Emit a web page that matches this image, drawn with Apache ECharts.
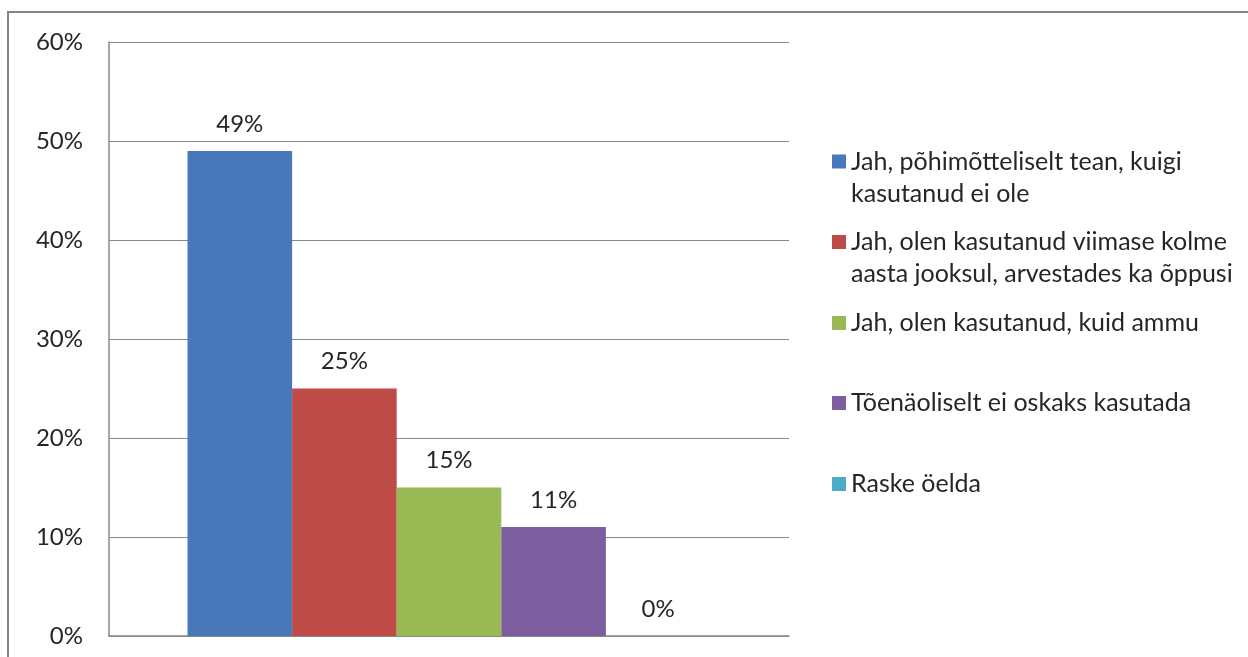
<!DOCTYPE html>
<html>
<head>
<meta charset="utf-8">
<script src="https://cdn.jsdelivr.net/npm/echarts@6/dist/echarts.min.js"></script>
<style>html,body{margin:0;padding:0;background:#fff}#c{width:1248px;height:657px}</style>
</head>
<body>
<div id="c"></div>
<script>
const categories = [''];
const seriesNames = [
  'Jah, põhimõtteliselt tean, kuigi\nkasutanud ei ole',
  'Jah, olen kasutanud viimase kolme\naasta jooksul, arvestades ka õppusi',
  'Jah, olen kasutanud, kuid ammu',
  'Tõenäoliselt ei oskaks kasutada',
  'Raske öelda'
];
const seriesValues = [49, 25, 15, 11, 0];
const seriesColors = ['#4878BA', '#BE4B48', '#98B954', '#7D5FA0', '#4BACC6'];
const yTicks = { min: 0, max: 60, interval: 10 };

const FONT = 'Lato';
const legendCenters = [161.5, 242, 323, 403, 484];

const chart = echarts.init(document.getElementById('c'), null, { renderer: 'canvas' });

const series = seriesNames.map((name, i) => ({
  name: name,
  type: 'bar',
  data: [seriesValues[i]],
  barWidth: 104.6,
  barGap: '0%',
  itemStyle: { color: seriesColors[i] },
  label: {
    show: true,
    position: 'top',
    distance: 14,
    formatter: '{c}%',
    fontFamily: FONT,
    fontSize: 24,
    lineHeight: 26,
    color: '#262626'
  }
}));

const legends = seriesNames.map((name, i) => {
  const twoLine = name.indexOf('\n') >= 0;
  return {
    data: [name],
    orient: 'vertical',
    left: 832,
    top: twoLine ? legendCenters[i] - 48 : legendCenters[i] - 16,
    padding: 0,
    itemWidth: 14,
    itemHeight: 14,
    selectedMode: false,
    icon: 'rect',
    // two-line names: an empty leading line keeps the marker level with the first line
    formatter: twoLine ? (n) => ' \n' + n : (n) => n,
    textStyle: {
      fontFamily: FONT,
      fontSize: 25,
      lineHeight: 32,
      color: '#262626'
    }
  };
});

chart.setOption({
  animation: false,
  backgroundColor: '#fff',
  graphic: [{
    type: 'rect',
    shape: { x: 8, y: 12, width: 1300, height: 700 },
    style: { fill: 'none', stroke: '#858585', lineWidth: 2 },
    z: 100
  }],
  legend: legends,
  grid: { left: 109, top: 42, width: 680, height: 594 },
  xAxis: {
    type: 'category',
    data: categories,
    axisLine: { show: true, lineStyle: { color: '#888', width: 1.5 } },
    axisTick: { show: false },
    axisLabel: { show: false }
  },
  yAxis: {
    type: 'value',
    min: yTicks.min,
    max: yTicks.max,
    interval: yTicks.interval,
    axisLine: { show: true, lineStyle: { color: '#888', width: 1.5 } },
    axisTick: { show: false },
    splitLine: { show: true, lineStyle: { color: '#888', width: 1.2 } },
    axisLabel: {
      formatter: '{value}%',
      margin: 26,
      fontFamily: FONT,
      fontSize: 24,
      color: '#262626'
    }
  },
  series: series
});
</script>
</body>
</html>
